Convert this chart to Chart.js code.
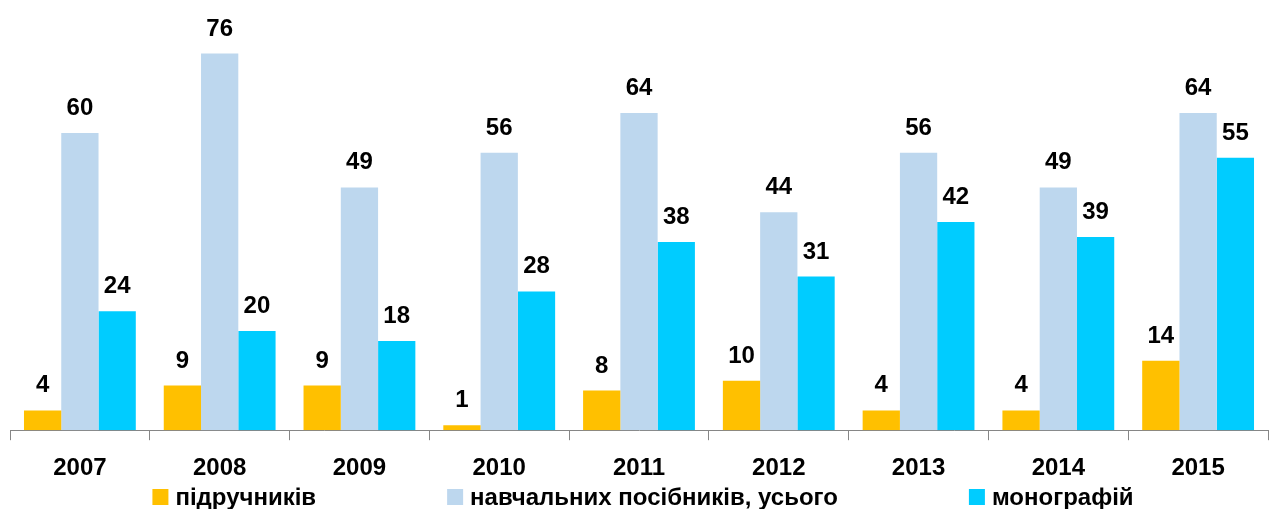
<!DOCTYPE html>
<html>
<head>
<meta charset="utf-8">
<script src="https://cdn.jsdelivr.net/npm/chart.js@4"></script>
<style>
  html, body { margin: 0; padding: 0; background: #fff; }
  #wrap { width: 1270px; height: 509px; }
</style>
</head>
<body>
<div id="wrap"><canvas id="chart"></canvas></div>
<script>
// Дані
const years = ['2007', '2008', '2009', '2010', '2011', '2012', '2013', '2014', '2015'];
const textbooks = [4, 9, 9, 1, 8, 10, 4, 4, 14];          // підручників
const manuals = [60, 76, 49, 56, 64, 44, 56, 49, 64];     // навчальних посібників, усього
const monographs = [24, 20, 18, 28, 38, 31, 42, 39, 55];  // монографій

const FONT = '"Liberation Sans", Arial, sans-serif';

// підписи значень над стовпчиками
const valueLabels = {
  id: 'valueLabels',
  afterDatasetsDraw(chart) {
    const ctx = chart.ctx;
    ctx.save();
    ctx.font = 'bold 24px ' + FONT;
    ctx.fillStyle = '#000';
    ctx.textAlign = 'center';
    ctx.textBaseline = 'alphabetic';
    chart.data.datasets.forEach((ds, i) => {
      chart.getDatasetMeta(i).data.forEach((bar, j) => {
        ctx.fillText(ds.data[j], bar.x, bar.y - 18);
      });
    });
    ctx.restore();
  }
};

// легенда внизу з широкими проміжками
const wideLegend = {
  id: 'wideLegend',
  afterDraw(chart) {
    const ctx = chart.ctx;
    const box = 16, gapText = 7, gapItem = 131;
    ctx.save();
    ctx.font = 'bold 24px ' + FONT;
    ctx.textBaseline = 'middle';
    ctx.textAlign = 'left';
    const items = chart.data.datasets.map(ds => ({ text: ds.label, color: ds.backgroundColor }));
    const widths = items.map(it => box + gapText + ctx.measureText(it.text).width);
    const total = widths.reduce((a, b) => a + b, 0) + gapItem * (items.length - 1);
    let x = 643 - total / 2;
    const y = 497;
    items.forEach((it, i) => {
      ctx.fillStyle = it.color;
      ctx.fillRect(x, y - box / 2, box, box);
      ctx.fillStyle = '#000';
      ctx.fillText(it.text, x + box + gapText, y + 1);
      x += widths[i] + gapItem;
    });
    ctx.restore();
  }
};

new Chart(document.getElementById('chart'), {
  type: 'bar',
  data: {
    labels: years,
    datasets: [
      { label: 'підручників', data: textbooks, backgroundColor: '#FFC000' },
      { label: 'навчальних посібників, усього', data: manuals, backgroundColor: '#BDD7EE' },
      { label: 'монографій', data: monographs, backgroundColor: '#00CCFF' }
    ]
  },
  options: {
    responsive: true,
    maintainAspectRatio: false,
    animation: false,
    layout: { padding: { left: 10, right: 2, top: 9, bottom: 12 } },
    datasets: {
      bar: { categoryPercentage: 0.8, barPercentage: 1.0 }
    },
    plugins: {
      legend: { display: false },
      tooltip: { enabled: false }
    },
    scales: {
      x: {
        offset: true,
        grid: {
          display: true,
          drawOnChartArea: false,
          drawTicks: true,
          tickLength: 10,
          color: '#868686',
          offset: true
        },
        border: { display: true, color: '#868686', width: 1 },
        ticks: {
          color: '#000',
          padding: 14,
          font: { family: FONT, size: 24, weight: 'bold' }
        }
      },
      y: {
        display: false,
        min: 0,
        max: 85
      }
    }
  },
  plugins: [valueLabels, wideLegend]
});
</script>
</body>
</html>
